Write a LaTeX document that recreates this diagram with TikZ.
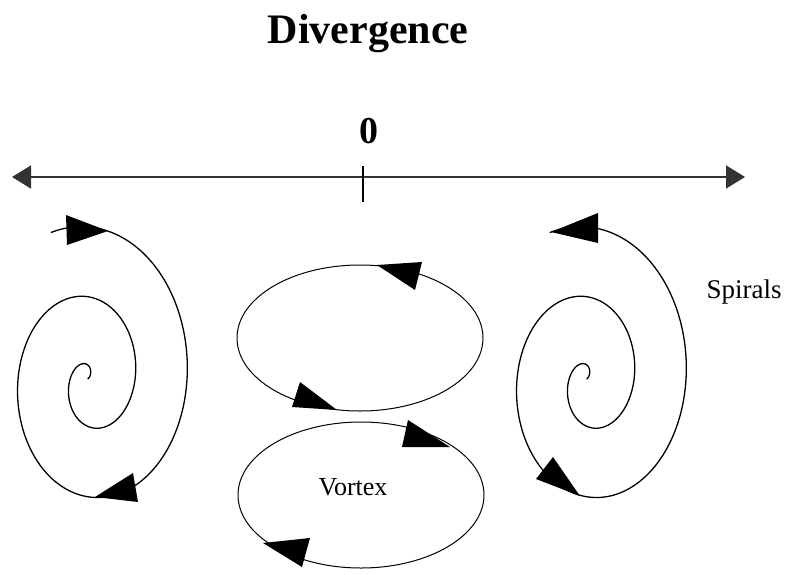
\documentclass[tikz,border=0pt]{standalone}
\usepackage{fontspec}
\setmainfont{Liberation Serif}
\usepackage{tikz}
\usetikzlibrary{arrows.meta}
\usetikzlibrary{shapes.geometric}

\begin{document}
\begin{tikzpicture}[
  x=1pt, y=-1pt,
  every node/.style={align=center, inner sep=0pt},
  curve/.style={line width=1.3pt, line join=round},
  loopbox/.style={draw, ellipse, line width=1pt, minimum width=246pt, minimum height=146pt},
  head/.style={fill=black},
  axisline/.style={line width=1.8pt, black!80, {Triangle[length=19pt, width=23pt]}-{Triangle[length=19pt, width=23pt]}}
]
\useasboundingbox (0,0) rectangle (785,574);
\node[anchor=base, font=\fontsize{42}{48}\selectfont\bfseries] (title) at (368,43) {Divergence};
\node[anchor=base, font=\fontsize{38}{44}\selectfont\bfseries] (zero) at (369,143) {0};
\coordinate (axl) at (12,177);
\coordinate (axr) at (745,177);
\coordinate (tick) at (363,177);
\draw[axisline] (axl) -- (axr);
\draw[line width=1.3pt] ([yshift=-25pt]tick) -- ([yshift=11pt]tick);
\foreach \dx in {0,499}
  \draw[curve, xshift=\dx] plot[domain=-110:690, samples=180, smooth, variable=\t]
    ({89.5+(97.5-0.1444*\t)*cos(\t)}, {379.5+(135-0.1944*\t)*sin(\t)});
\fill[head] (108,231) -- (66,215) -- (67,245) -- cycle;
\fill[head] (95,497) -- (133,473) -- (138,502) -- cycle;
\fill[head] (551,232) -- (598,213) -- (598,243) -- cycle;
\fill[head] (580,496) -- (553,457) -- (536,479) -- cycle;
\node[loopbox] (vortexup) at (360,338) {};
\node[loopbox] (vortexdown) at (361,495) {};
\fill[head] (377,265) -- (422,262) -- (415,290) -- cycle;
\fill[head] (337,410) -- (300,382) -- (292,407) -- cycle;
\fill[head] (450,447) -- (408,420) -- (402,447) -- cycle;
\fill[head] (263,543) -- (310,538) -- (302,567) -- cycle;
\node[anchor=base, font=\fontsize{26}{30}\selectfont] (vortex) at (353,495) {Vortex};
\node[anchor=base, font=\fontsize{27}{32}\selectfont] (spirals) at (744,298) {Spirals};
\end{tikzpicture}
\end{document}
